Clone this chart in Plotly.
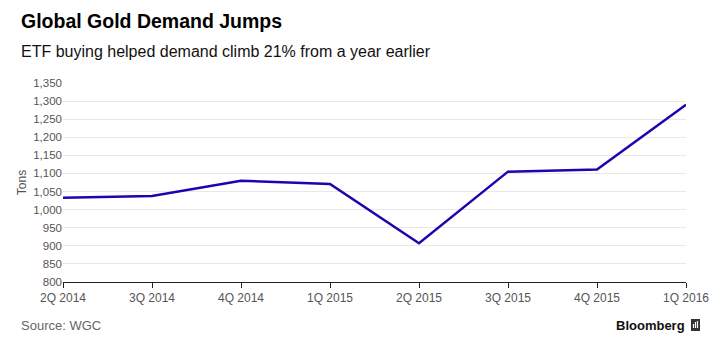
import plotly.graph_objects as go

quarters = ["2Q 2014", "3Q 2014", "4Q 2014", "1Q 2015", "2Q 2015", "3Q 2015", "4Q 2015", "1Q 2016"]
demand = [1033, 1038, 1080, 1071, 907, 1105, 1111, 1290]
y_ticks = list(range(800, 1351, 50))
y_tick_labels = [f"{v:,}" for v in y_ticks]

font_family = "Liberation Sans, Arial, sans-serif"

fig = go.Figure()
fig.add_trace(go.Scatter(
    x=quarters, y=demand, mode="lines",
    line=dict(color="#2300b0", width=2.5),
    hoverinfo="x+y",
))

icon = dict(xref="paper", yref="paper", xsizemode="pixel", ysizemode="pixel",
            xanchor=1, yanchor=0)

fig.update_layout(
    width=720, height=352,
    margin=dict(l=63, r=34, t=83, b=70),
    paper_bgcolor="white", plot_bgcolor="white",
    showlegend=False,
    font=dict(family=font_family, color="#555555", size=12),
    xaxis=dict(
        type="category", range=[0, len(quarters) - 1],
        showgrid=False, showline=True, linecolor="#222222", linewidth=1,
        ticks="outside", ticklen=5, tickcolor="#222222",
        tickfont=dict(size=12, color="#555555"),
        zeroline=False, fixedrange=True,
    ),
    yaxis=dict(
        range=[800, 1350], tickvals=y_ticks, ticktext=y_tick_labels,
        showgrid=True, gridcolor="#e8e8e8", gridwidth=1,
        showline=False, ticks="", zeroline=False,
        tickfont=dict(size=11.5, color="#555555"),
        title=dict(text="Tons", font=dict(size=12, color="#555555"), standoff=4),
        fixedrange=True,
    ),
    annotations=[
        dict(text="<b>Global Gold Demand Jumps</b>", xref="paper", yref="paper",
             x=0, xshift=-44, y=1, yshift=62, xanchor="left", yanchor="middle",
             showarrow=False, font=dict(size=19.5, color="#000000", family=font_family)),
        dict(text="ETF buying helped demand climb 21% from a year earlier", xref="paper", yref="paper",
             x=0, xshift=-44, y=1, yshift=32, xanchor="left", yanchor="middle",
             showarrow=False, font=dict(size=16, color="#111111", family=font_family)),
        dict(text="Source: WGC", xref="paper", yref="paper",
             x=0, xshift=-44, y=0, yshift=-43, xanchor="left", yanchor="middle",
             showarrow=False, font=dict(size=13, color="#666666", family=font_family)),
        dict(text="<b>Bloomberg</b>", xref="paper", yref="paper",
             x=1, xshift=1, y=0, yshift=-43, xanchor="right", yanchor="middle",
             showarrow=False, font=dict(size=13, color="#111111", family=font_family)),
    ],
    shapes=[
        dict(type="rect", x0=5, x1=14, y0=-49, y1=-37, fillcolor="#333333",
             line=dict(width=0), **icon),
        dict(type="line", x0=7.5, x1=7.5, y0=-46, y1=-42, line=dict(color="white", width=1.2), **icon),
        dict(type="line", x0=9.5, x1=9.5, y0=-46, y1=-40, line=dict(color="white", width=1.2), **icon),
        dict(type="line", x0=11.5, x1=11.5, y0=-46, y1=-39, line=dict(color="white", width=1.2), **icon),
    ],
)

fig.write_html("out.html")
